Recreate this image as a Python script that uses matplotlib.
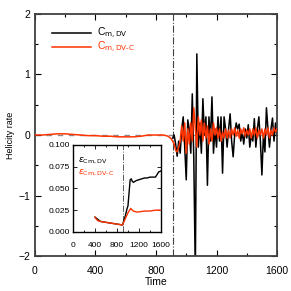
import matplotlib
matplotlib.use("Agg")
import matplotlib.pyplot as plt
import numpy as np
from matplotlib.ticker import MultipleLocator

plt.rcParams['font.family'] = ['Liberation Sans', 'DejaVu Sans']

# main panel: helicity rate
t_red_pre = [0, 50, 100, 150, 200, 250, 300, 350, 400, 450, 500, 550, 600,
             650, 700, 750, 800, 850, 880, 900, 910]
red_pre = [0.0, 0.0, 0.01, 0.02, 0.02, 0.01, 0.0, -0.01, -0.01, -0.02, -0.02,
           -0.03, -0.03, -0.03, -0.02, 0.0, 0.0, 0.0, -0.02, -0.06, -0.1]

t_noisy = list(range(920, 1601, 10))
black_noisy = [0.0, -0.15, -0.35, -0.1, -0.3, 0.1, 0.3, -0.2, -0.74, 0.25,
               0.1, -0.3, 0.68, -0.4, -2.3, 1.34, -0.2, 0.2, -0.3, 0.6,
               0.0, 0.3, -0.83, 0.3, -0.1, 0.63, -0.3, 0.1, -0.2, 0.3,
               -0.1, 0.3, -0.63, 0.3, 0.1, -0.2, 0.1, 0.35, -0.1, -0.36,
               0.0, 0.2, 0.1, 0.18, -0.1, 0.05, -0.15, 0.1, -0.05, 0.17,
               -0.2, 0.0, -0.1, 0.27, -0.2, 0.1, 0.3, -0.1, -0.66, 0.0,
               -0.28, 0.45, 0.1, -0.2, 0.1, 0.28, -0.1, 0.2, 0.0]
red_noisy = [-0.15, -0.25, -0.28, -0.2, -0.1, 0.15, -0.1, 0.2, -0.3, 0.1,
             -0.15, 0.2, -0.1, 0.45, 0.1, -0.2, 0.3, 0.0, 0.25, -0.1,
             0.2, -0.05, 0.15, -0.15, 0.1, -0.1, 0.2, 0.0, 0.12, -0.05,
             0.1, -0.1, 0.05, -0.05, 0.1, -0.05, 0.08, -0.05, 0.1, 0.0,
             0.12, -0.02, 0.08, -0.05, 0.1, 0.02, 0.12, -0.02, 0.08, 0.0,
             0.1, -0.05, 0.1, 0.0, 0.12, -0.05, 0.08, 0.0, 0.1, -0.05,
             0.1, 0.0, 0.12, -0.05, 0.08, 0.0, 0.12, 0.05, 0.1]

t_black = [910] + t_noisy
black = [-0.05] + black_noisy
t_red = t_red_pre + t_noisy
red = red_pre + red_noisy

t_event = 912

# inset: errors
t_in_black = [400, 500, 600, 700, 800, 900, 950, 980, 1000, 1020, 1040, 1060,
              1080, 1100, 1150, 1200, 1250, 1300, 1350, 1400, 1450, 1500,
              1530, 1560, 1600]
eps_black = [0.017, 0.012, 0.011, 0.010, 0.009, 0.008, 0.018, 0.026, 0.030,
             0.045, 0.060, 0.061, 0.058, 0.057, 0.059, 0.060, 0.061, 0.062,
             0.062, 0.063, 0.063, 0.063, 0.066, 0.069, 0.070]
t_in_red = [400, 420, 450, 500, 600, 700, 800, 900, 950, 1000, 1050, 1080,
            1100, 1150, 1200, 1300, 1400, 1500, 1600]
eps_red = [0.017, 0.015, 0.013, 0.012, 0.011, 0.010, 0.009, 0.008, 0.015,
           0.022, 0.027, 0.025, 0.024, 0.023, 0.023, 0.024, 0.024, 0.025,
           0.025]

RED = '#ff3300'

fig = plt.figure(figsize=(2.91, 2.91), dpi=100)
ax = fig.add_axes([0.12, 0.12, 0.832, 0.832])

ax.axhline(0, color='0.55', lw=1.0, ls=(0, (4, 4)), zorder=1)
ax.plot(t_black, black, color='black', lw=1.1, label=r'C$_{\rm m,DV}$', zorder=2)
ax.plot(t_red, red, color=RED, lw=1.1, label=r'C$_{\rm m,DV\text{-}C}$', zorder=3)
ax.axvline(t_event, color='0.25', lw=0.8, ls='-.', zorder=1)

ax.set_xlim(0, 1600)
ax.set_ylim(-2, 2)
ax.xaxis.set_major_locator(MultipleLocator(400))
ax.xaxis.set_minor_locator(MultipleLocator(200))
ax.yaxis.set_major_locator(MultipleLocator(1))
ax.yaxis.set_minor_locator(MultipleLocator(0.5))
ax.tick_params(which='both', direction='in', top=True, right=True,
               labelsize=7.5, width=0.8)
ax.tick_params(which='major', length=4)
ax.tick_params(which='minor', length=2.5)
ax.tick_params(axis='x', pad=7)
for s in ax.spines.values():
    s.set_linewidth(1.3)
    s.set_color('0.25')
ax.set_xlabel('Time', fontsize=7.5, labelpad=1)
ax.set_ylabel('Helicity rate', fontsize=6.5, labelpad=2)

leg = ax.legend(loc='upper left', bbox_to_anchor=(0.04, 0.98), frameon=False,
                fontsize=7.5, handlelength=3.8, handletextpad=0.5,
                labelspacing=-0.1, borderpad=0.2)
for txt, c in zip(leg.get_texts(), ['black', RED]):
    txt.set_color(c)

# inset
ins = fig.add_axes([0.251, 0.203, 0.302, 0.299])
ins.plot(t_in_black, eps_black, color='black', lw=1.0, zorder=2)
ins.plot(t_in_red, eps_red, color=RED, lw=1.0, zorder=3)
ins.axvline(t_event, color='0.35', lw=0.7, ls='-.', zorder=1)
ins.set_xlim(0, 1600)
ins.set_ylim(0, 0.1)
ins.xaxis.set_major_locator(MultipleLocator(400))
ins.xaxis.set_minor_locator(MultipleLocator(200))
ins.set_yticks([0, 0.025, 0.05, 0.075, 0.1])
ins.set_yticklabels(['0.000', '0.025', '0.050', '0.075', '0.100'])
ins.tick_params(which='both', direction='in', top=True, right=True,
                labelsize=6, width=0.6, pad=2)
ins.tick_params(which='major', length=3)
ins.tick_params(which='minor', length=1.5)
ins.tick_params(axis='x', pad=7)
for s in ins.spines.values():
    s.set_linewidth(1.0)
ins.text(0.06, 0.88, r'$\epsilon$$_{\rm Cm,DV}$', transform=ins.transAxes,
         fontsize=6.5, color='black', va='top')
ins.text(0.06, 0.74, r'$\epsilon$$_{\rm Cm,DV\text{-}C}$', transform=ins.transAxes,
         fontsize=6.5, color=RED, va='top')

fig.savefig('out.png', dpi=100)
